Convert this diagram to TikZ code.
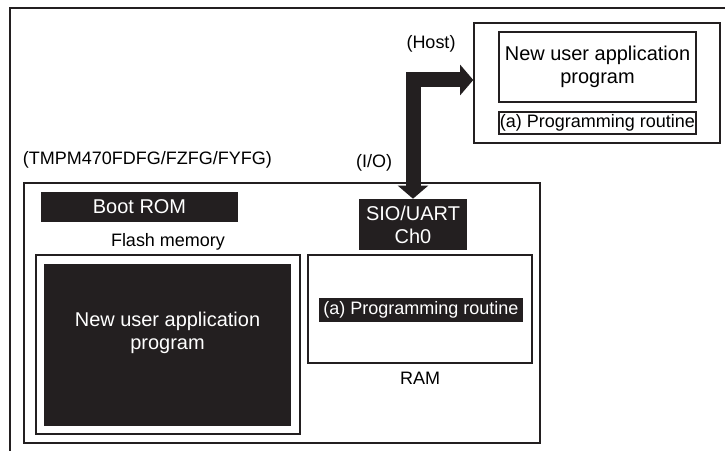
\documentclass[tikz,border=0pt]{standalone}
\usepackage{fontspec}
\setmainfont{Liberation Sans}
\usetikzlibrary{arrows.meta,positioning,calc}
\definecolor{colink}{HTML}{231F20}
\newcommand{\fntbig}{\fontsize{14.2}{16.4}\selectfont}
\newcommand{\fntsml}{\fontsize{12.8}{15}\selectfont}

\begin{document}
\begin{tikzpicture}[
  font=\fntsml,
  frame/.style={draw=colink,line width=1pt},
  box/.style={draw=colink,line width=1pt,inner sep=0pt},
  blk/.style={fill=colink,text=white,inner sep=0pt,align=center},
  bus/.style={colink,line width=0.375cm,
    arrows={Triangle[width=0.75cm,length=0.33cm]-Triangle[width=0.75cm,length=0.33cm]}},
]
  \useasboundingbox (0,0) rectangle (18.125,11.25);
  \fill[white] (0,0) rectangle (18.125,11.25);
  % ---- outer frame ----
  \draw[frame] (0.25,-0.1) |- (18.3,11.05);
  % ---- host side ----
  \node[box,minimum width=6.15cm,minimum height=3cm] (host) at (14.925,9.175) {};
  \node[box,minimum width=4.925cm,minimum height=1.75cm,align=center,font=\fntbig]
    (hprog) at (14.9375,9.575) {New user application\\program};
  \node[box,minimum width=4.925cm,minimum height=0.55cm] (hrout) at (14.9375,8.175) {(a) Programming routine};
  \node (hostlbl) at (10.775,10.15) {(Host)};
  % ---- device side ----
  \node[anchor=west] (chiplbl) at (0.45,7.25) {(TMPM470FDFG/FZFG/FYFG)};
  \node (iolbl) at (9.35,7.175) {(I/O)};
  \node[box,minimum width=12.9cm,minimum height=6.5cm] (chip) at (7.05,3.425) {};
  \node[blk,minimum width=4.925cm,minimum height=0.75cm,font=\fntbig] (boot) at (3.4875,6.075) {Boot ROM};
  \node (flashlbl) at (4.2,5.2) {Flash memory};
  \node[box,minimum width=6.6cm,minimum height=4.475cm] (flash) at (4.2,2.6375) {};
  \node[blk,minimum width=6.175cm,minimum height=4.05cm] (app) at (4.1875,2.625) {};
  \node[font=\fntbig,text=white,align=center] (apptxt) at ([yshift=0.3cm]app.center) {New user application\\program};
  \node[blk,minimum width=2.7cm,minimum height=1.275cm,font=\fntbig] (sio) at (10.325,5.6375) {SIO/UART\\Ch0};
  \node[box,minimum width=5.6cm,minimum height=2.7cm] (ram) at (10.5,3.525) {};
  \node[blk,minimum width=5.1cm,minimum height=0.6cm] (rout) at (10.525,3.5) {(a) Programming routine};
  \node (ramlbl) at (10.5,1.8) {RAM};
  % ---- serial link ----
  \draw[bus] (sio.north) |- ([yshift=0.075cm]host.west);
\end{tikzpicture}
\end{document}
